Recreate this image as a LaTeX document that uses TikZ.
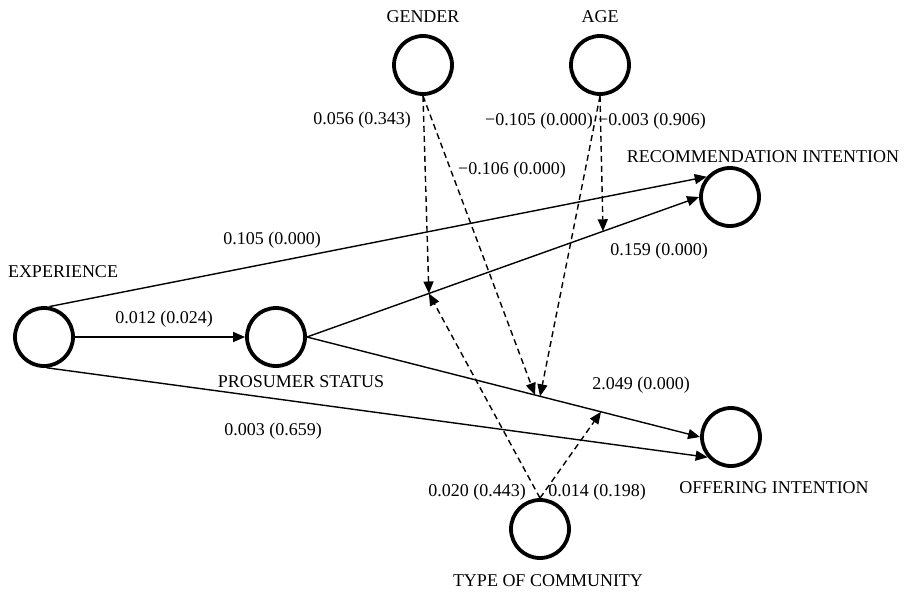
\documentclass[tikz,border=0pt]{standalone}
\usepackage{fontspec}
\setmainfont{Liberation Serif}
\usetikzlibrary{arrows.meta}
\begin{document}
\begin{tikzpicture}[x=1pt,y=-1pt,
  lv/.style={circle,draw,line width=3.8pt,minimum size=58pt,inner sep=0pt},
  txt/.style={font=\fontsize{18}{20}\selectfont,inner sep=0pt},
  pathe/.style={line width=1.4pt,-{Triangle[length=12pt,width=10pt]}},
  modr/.style={pathe,dash pattern=on 6pt off 4pt}]
\useasboundingbox (0,0) rectangle (904,594);
% latent variables
\node[lv] (exp) at (44,337) {};
\node[lv] (pro) at (276,337) {};
\node[lv] (rec) at (730,197) {};
\node[lv] (off) at (731,437) {};
\node[lv] (gen) at (423,65) {};
\node[lv] (age) at (600,65) {};
\node[lv] (typ) at (540,529) {};
% names
\node[txt] (tgen) at (423,17) {GENDER};
\node[txt] (tage) at (600,17) {AGE};
\node[txt] (trec) at (763,157) {RECOMMENDATION INTENTION};
\node[txt] (texp) at (63,272) {EXPERIENCE};
\node[txt] (tpro) at (301,382) {PROSUMER STATUS};
\node[txt] (toff) at (774,488) {OFFERING INTENTION};
\node[txt] (ttyp) at (548,581) {TYPE OF COMMUNITY};
% structural paths
\draw[pathe] (exp.80) -- (rec.139);
\draw[pathe] (exp.east) -- (pro.west);
\draw[pathe] (exp.275) -- (off.221);
\draw[pathe] (pro.east) -- (rec.west) coordinate[pos=0.311] (m1) coordinate[pos=0.755] (m2);
\draw[pathe] (pro.east) -- (off.west) coordinate[pos=0.58] (m3a) coordinate[pos=0.593] (m3b) coordinate[pos=0.748] (m4);
% moderating paths
\draw[modr] (gen.south) -- (m1);
\draw[modr] (gen.south) -- (m3a);
\draw[modr] (age.south) -- (m3b);
\draw[modr] (age.south) -- (m2);
\draw[modr] (typ.north) -- (m1);
\draw[modr] (typ.north) -- (m4);
% coefficients
\node[txt] (c1) at (272,240) {0.105 (0.000)};
\node[txt] (c2) at (164,319) {0.012 (0.024)};
\node[txt] (c3) at (273,431) {0.003 (0.659)};
\node[txt] (c4) at (659,251) {0.159 (0.000)};
\node[txt] (c5) at (641,385) {2.049 (0.000)};
\node[txt] (c6) at (362,120) {0.056 (0.343)};
\node[txt] (c7) at (512,170) {−0.106 (0.000)};
\node[txt] (c8) at (539,121) {−0.105 (0.000)};
\node[txt] (c9) at (652,121) {−0.003 (0.906)};
\node[txt] (c10) at (477,492) {0.020 (0.443)};
\node[txt] (c11) at (597,492) {0.014 (0.198)};
\end{tikzpicture}
\end{document}
